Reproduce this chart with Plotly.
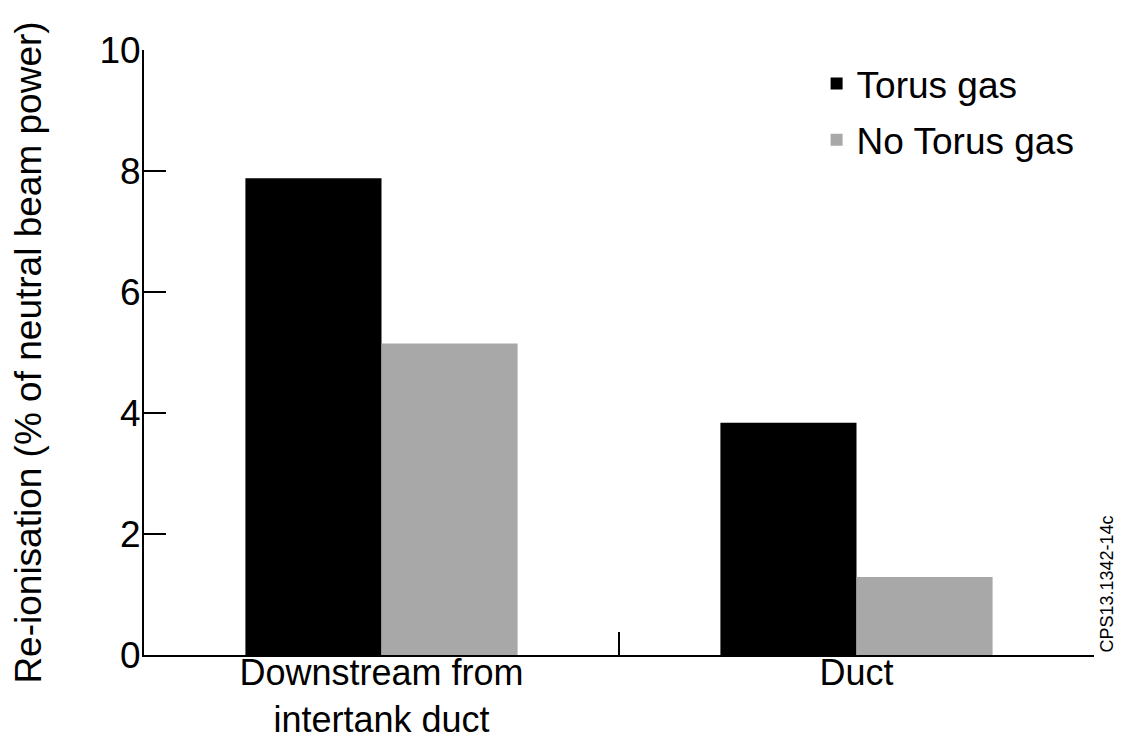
import plotly.graph_objects as go

categories = ["Downstream from<br>intertank duct", "Duct"]
torus_gas = [7.88, 3.84]
no_torus_gas = [5.15, 1.29]
y_ticks = [0, 2, 4, 6, 8, 10]

FONT = "Liberation Sans, Arial, Helvetica, sans-serif"

fig = go.Figure()
fig.add_trace(go.Bar(x=categories, y=torus_gas, name="Torus gas",
                     marker=dict(color="#000000", line=dict(width=0)),
                     legendgroup="a"))
fig.add_trace(go.Bar(x=categories, y=no_torus_gas, name="No Torus gas",
                     marker=dict(color="#a8a8a8", line=dict(width=0)),
                     legendgroup="b"))

fig.update_layout(
    width=1114, height=736,
    margin=dict(l=136, r=28, t=42, b=89, autoexpand=False),
    paper_bgcolor="white", plot_bgcolor="white",
    font=dict(family=FONT, size=37, color="black"),
    barmode="group", bargap=0.427, bargroupgap=0,
    showlegend=True,
    legend=dict(x=0.708, y=0.995, xanchor="left", yanchor="top",
                font=dict(size=37), tracegroupgap=5,
                bgcolor="rgba(0,0,0,0)", itemwidth=30),
    xaxis=dict(type="category", range=[-0.5, 1.5], showline=True,
               linecolor="black", linewidth=2, ticks="inside",
               tickson="boundaries", ticklen=23, tickwidth=2,
               tickcolor="black", showgrid=False, zeroline=False,
               tickfont=dict(size=36), automargin=False,
               ticklabelstandoff=-15),
    yaxis=dict(range=[0, 10], tickvals=y_ticks, showline=True,
               linecolor="black", linewidth=2, ticks="inside",
               ticklen=22, tickwidth=2, tickcolor="black",
               showgrid=False, zeroline=False, tickfont=dict(size=37),
               automargin=False, ticklabelstandoff=-6,
               title=dict(text="Re-ionisation (% of neutral beam power)",
                          font=dict(size=37), standoff=54)),
    annotations=[dict(text="CPS13.1342-14c", textangle=-90,
                      xref="paper", yref="paper", x=1.0127, y=0,
                      xanchor="center", yanchor="bottom", showarrow=False,
                      font=dict(size=18, family=FONT))],
)

fig.write_html("out.html")
